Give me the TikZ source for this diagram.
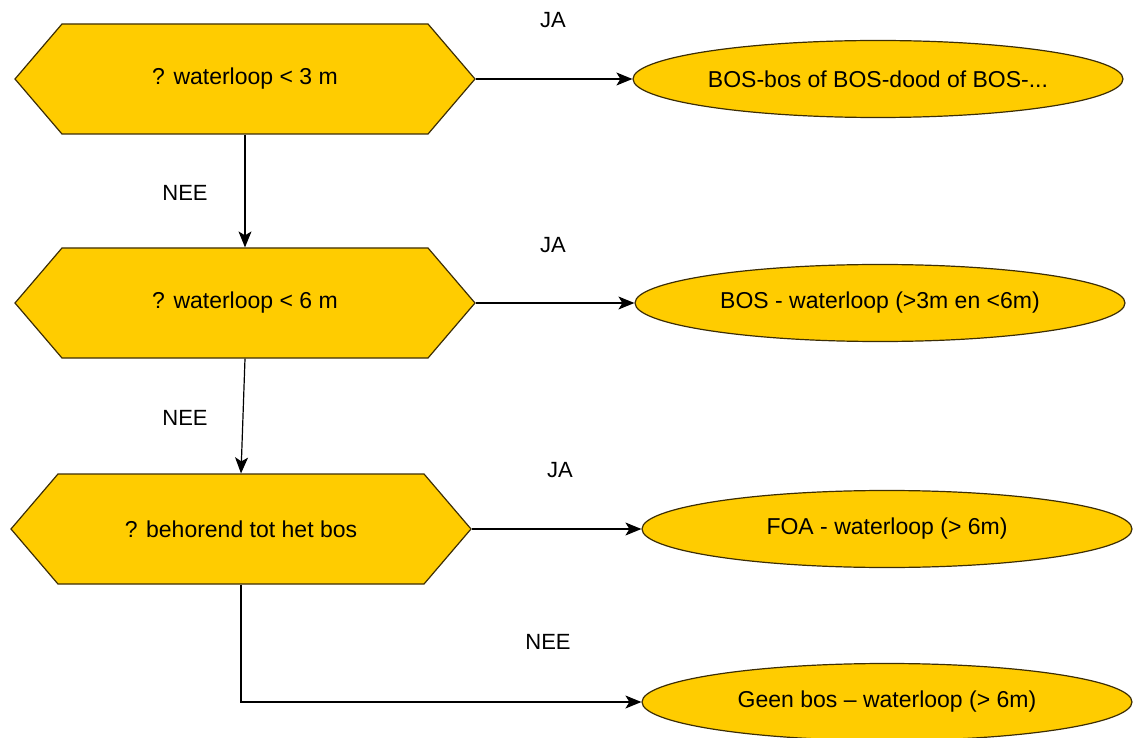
\documentclass[tikz,border=0pt]{standalone}
\usepackage{fontspec}
\setmainfont{Liberation Sans}
\usetikzlibrary{shapes.geometric,shapes.symbols,arrows.meta}
\definecolor{goud}{RGB}{255,204,0}
\definecolor{rand}{RGB}{60,45,5}
\tikzset{
  vraag/.style={shape=signal, signal to=east and west, signal pointer angle=99,
    draw=rand, fill=goud, line width=1.2pt, minimum width=460pt, minimum height=110pt,
    inner sep=0pt, font=\fontsize{23}{27}\selectfont},
  uitkomst/.style={ellipse, draw=rand, fill=goud, line width=1.2pt, minimum width=490pt,
    minimum height=77pt, inner sep=0pt, font=\fontsize{23}{27}\selectfont},
  label/.style={font=\fontsize{22}{26}\selectfont},
  pijl/.style={line width=1.2pt, -{Stealth[length=16pt,width=13pt,inset=4pt]}}
}
\begin{document}
\begin{tikzpicture}[x=1pt, y=-1pt]
  \useasboundingbox (0,0) rectangle (1144,738);

  \node[vraag] (v1) at (245,79) {? waterloop < 3 m};
  \node[vraag] (v2) at (245,303) {? waterloop < 6 m};
  \node[vraag] (v3) at (241,529) {? behorend tot het bos};

  \node[uitkomst] (u1) at (878,79) {BOS-bos of BOS-dood of BOS-...};
  \node[uitkomst] (u2) at (880,303) {BOS - waterloop (>3m en <6m)};
  \node[uitkomst] (u3) at (887,529) {FOA - waterloop (> 6m)};
  \node[uitkomst] (u4) at (887,702) {Geen bos -- waterloop (> 6m)};

  \draw[pijl] (v1.east) -- (u1.west);
  \draw[pijl] (v2.east) -- (u2.west);
  \draw[pijl] (v3.east) -- (u3.west);
  \draw[pijl] (v1.south) -- (v2.north);
  \draw[pijl] (v2.south) -- (v3.north);
  \draw[pijl] (v3.south) |- (u4.west);

  \node[label] (ja1) at (553,20) {JA};
  \node[label] (ja2) at (553,245) {JA};
  \node[label] (ja3) at (560,470) {JA};
  \node[label] (nee1) at (185,193) {NEE};
  \node[label] (nee2) at (185,418) {NEE};
  \node[label] (nee3) at (548,642) {NEE};
\end{tikzpicture}
\end{document}
